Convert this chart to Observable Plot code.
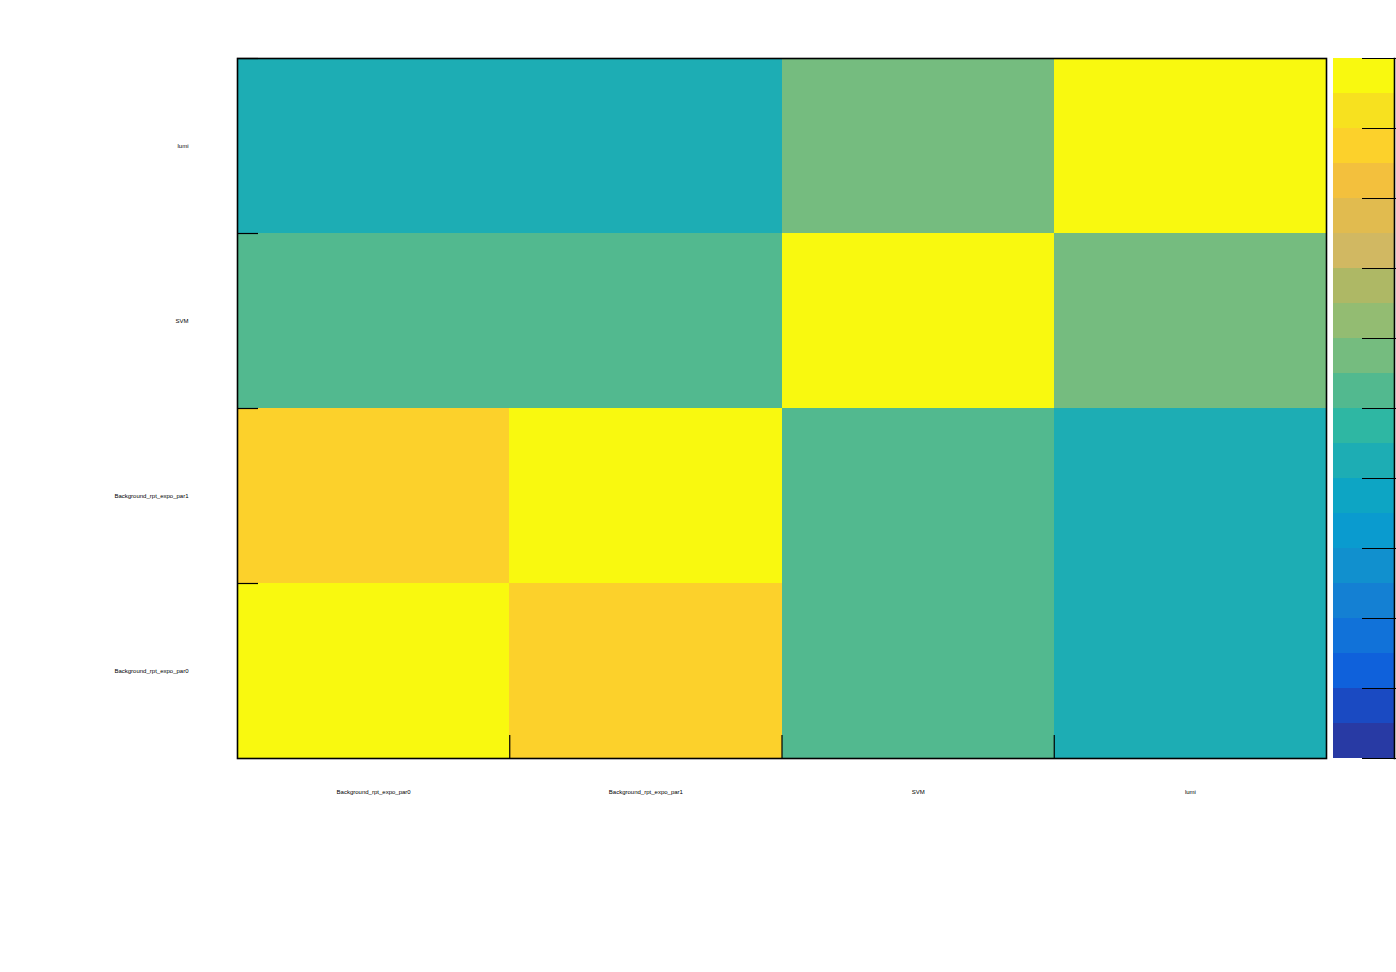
<!DOCTYPE html>
<html>
<head>
<meta charset="utf-8">
<script src="https://cdn.jsdelivr.net/npm/d3@7"></script>
<script src="https://cdn.jsdelivr.net/npm/@observablehq/plot@0.6"></script>
<style>
  html, body { margin: 0; padding: 0; background: #fff; }
  #wrap { position: relative; width: 1396px; height: 972px; overflow: hidden; }
  #wrap svg { position: absolute; top: 0; }
</style>
</head>
<body>
<div id="wrap"></div>
<script>
// Parameter names (x: left→right, y: bottom→top)
const params = ["Background_rpt_expo_par0", "Background_rpt_expo_par1", "SVM", "lumi"];

// Correlation matrix, rows/cols in the order of `params`
const corr = [
  [1.00, 0.75, 0.05, -0.15],
  [0.75, 1.00, 0.05, -0.15],
  [0.05, 0.05, 1.00, 0.15],
  [-0.15, -0.15, 0.15, 1.00]
];

// Colour palette (20 contour levels, bottom → top) and its range
const palette = [
  "#283aa4", "#1a4ac2", "#0f61db", "#1172d9", "#1480d3",
  "#1190ce", "#0a9bcf", "#0da5c4", "#1dadb4", "#2eb7a3",
  "#52b98f", "#75bc7f", "#93bc72", "#aeb865", "#d1b862",
  "#e1bb4f", "#f3c03d", "#fcd12b", "#f7e11f", "#f9f90f"
];
const zMin = -1, zMax = 1;
const zTicks = d3.range(0, 11).map(i => zMin + i * 0.2);

const nLevels = palette.length;
const step = (zMax - zMin) / nLevels;
const thresholds = d3.range(1, nLevels).map(i => zMin + i * step);
const bands = d3.range(nLevels).map(i => ({lo: zMin + i * step, hi: zMin + (i + 1) * step, mid: zMin + (i + 0.5) * step}));

const cells = [];
params.forEach((py, j) => params.forEach((px, i) => cells.push({i, j, v: corr[j][i]})));

const W = 1396, H = 972;
const mL = 237, mR = 70, mT = 58, mB = 214;
const plotW = W - mL - mR, plotH = H - mT - mB;
const colorScale = {type: "threshold", domain: thresholds, range: palette};
const font = "'Liberation Sans', Arial, sans-serif";

const main = Plot.plot({
  width: W, height: H,
  marginLeft: mL, marginRight: mR, marginTop: mT, marginBottom: mB,
  style: {fontFamily: font, fontSize: "6px", background: "transparent"},
  x: {domain: [0, params.length], axis: null},
  y: {domain: [0, params.length], axis: null},
  color: colorScale,
  marks: [
    Plot.rect(cells, {x1: d => d.i, x2: d => d.i + 1, y1: d => d.j, y2: d => d.j + 1, fill: d => d.v, shapeRendering: "crispEdges"}),
    Plot.axisX(params.map((p, i) => i + 0.5), {tickSize: 0, tickPadding: 31, tickFormat: (d) => params[Math.floor(d)], fontSize: 6, label: null}),
    Plot.axisY(params.map((p, i) => i + 0.5), {tickSize: 0, tickPadding: 49, tickFormat: (d) => params[Math.floor(d)], fontSize: 6, label: null}),
    Plot.ruleY(d3.range(1, params.length + 1), {stroke: "black", strokeWidth: 1.2, insetRight: plotW - 21}),
    Plot.ruleX(d3.range(1, params.length), {stroke: "black", strokeWidth: 1.2, insetTop: plotH - 23}),
    Plot.frame({stroke: "black", strokeWidth: 1.6})
  ]
});
document.getElementById("wrap").appendChild(main);

const cbLeft = 1333, cbW = W - cbLeft;
const cb = Plot.plot({
  width: cbW, height: H,
  marginLeft: 0, marginRight: 2, marginTop: mT, marginBottom: mB,
  style: {fontFamily: font, background: "transparent"},
  x: {axis: null},
  y: {domain: [zMin, zMax], axis: null},
  color: colorScale,
  marks: [
    Plot.rectY(bands, {y1: "lo", y2: "hi", fill: "mid", shapeRendering: "crispEdges"}),
    Plot.ruleY(zTicks, {stroke: "black", strokeWidth: 1.2, insetLeft: 29, insetRight: -2}),
    Plot.frame({anchor: "right", stroke: "black", strokeWidth: 1.6})
  ]
});
cb.style.left = cbLeft + "px";
document.getElementById("wrap").appendChild(cb);
</script>
</body>
</html>
